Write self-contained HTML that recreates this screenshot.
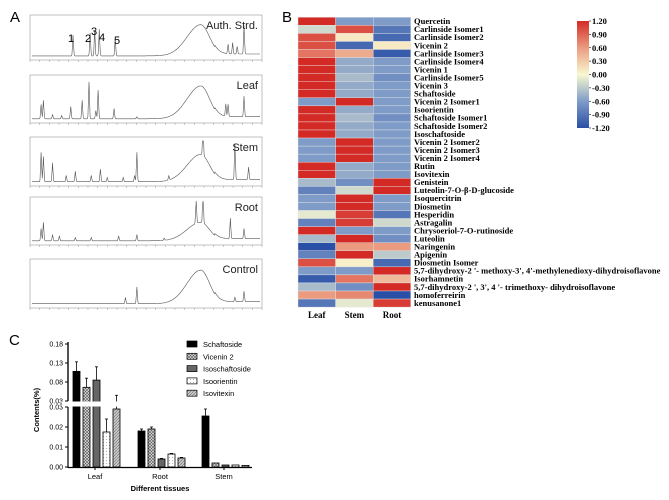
<!DOCTYPE html>
<html><head><meta charset="utf-8"><style>
html,body{margin:0;padding:0;background:#fff;width:669px;height:500px;overflow:hidden}
svg text{font-family:"Liberation Sans",sans-serif}
.serif{font-family:"Liberation Serif",serif;font-weight:bold}
</style></head><body>
<svg id="fig" width="669" height="500" viewBox="0 0 669 500" xmlns="http://www.w3.org/2000/svg">
<defs>
<pattern id="pCross" width="3" height="3" patternUnits="userSpaceOnUse"><rect width="3" height="3" fill="#ddd"/><path d="M0 0L3 3M3 0L0 3" stroke="#555" stroke-width="0.6"/></pattern>
<pattern id="pDot" width="3" height="3" patternUnits="userSpaceOnUse"><rect width="3" height="3" fill="#fff"/><circle cx="1.5" cy="1.5" r="0.5" fill="#999"/></pattern>
<pattern id="pHatch" width="3" height="3" patternUnits="userSpaceOnUse"><rect width="3" height="3" fill="#ccc"/><path d="M0 3L3 0" stroke="#777" stroke-width="0.7"/></pattern>
<linearGradient id="cbar" x1="0" y1="1" x2="0" y2="0">
<stop offset="0" stop-color="#2a4fa6"/><stop offset="0.25" stop-color="#7f9cc8"/><stop offset="0.5" stop-color="#f8f8d0"/><stop offset="0.75" stop-color="#eb9b80"/><stop offset="1" stop-color="#d42a26"/></linearGradient>
</defs>
<text x="10" y="22" font-size="15">A</text>
<text x="282" y="22" font-size="15">B</text>
<text x="9" y="345" font-size="15">C</text>
<g id="chrom"></g>
<g id="heat"></g>
<g id="bars"></g>
</svg>
<script>
// ---------- Panel A data ----------
const chromNames = ["Auth. Strd.","Leaf","Stem","Root","Control"];
// peaks: [relative position 0..1, relative height 0..1]
const chromPeaks = [
 [[0.18,0.55],[0.255,0.6],[0.275,0.65],[0.295,0.7],[0.365,0.45],[0.93,0.75],[0.86,0.25],[0.88,0.3],[0.9,0.2]],
 [[0.04,0.35],[0.05,0.45],[0.09,0.1],[0.13,0.08],[0.17,0.3],[0.22,0.45],[0.25,0.9],[0.28,0.2],[0.29,0.7],[0.36,0.25],[0.46,0.05],[0.85,0.3],[0.86,0.3],[0.93,0.5]],
 [[0.04,0.7],[0.05,0.6],[0.09,0.45],[0.15,0.15],[0.19,0.25],[0.26,0.15],[0.3,0.3],[0.33,0.1],[0.4,0.1],[0.45,0.15],[0.46,0.7],[0.6,0.1],[0.75,0.9],[0.89,0.85],[0.95,0.3]],
 [[0.04,0.3],[0.05,0.45],[0.09,0.15],[0.12,0.12],[0.19,0.08],[0.26,0.08],[0.38,0.12],[0.46,0.15],[0.58,0.05],[0.75,0.8],[0.72,0.6],[0.87,0.5],[0.93,0.25]],
 [[0.41,0.15],[0.46,0.4],[0.89,0.1],[0.93,0.25]]
];
const chromHump = [0.82,0.8,0.65,0.45,0.8];
const boxes = [[15,67],[75,130],[137,193],[197,252],[259,315]];
const ch = document.getElementById('chrom');
const NS="http://www.w3.org/2000/svg";
function mk(tag,attrs,parent){const e=document.createElementNS(NS,tag);for(const k in attrs)e.setAttribute(k,attrs[k]);parent.appendChild(e);return e;}
const bx0=30,bx1=262;
boxes.forEach((b,i)=>{
  const g=mk('g',{},ch);
  
  
  mk('rect',{x:bx0,y:b[0],width:bx1-bx0,height:b[1]-b[0]-7,fill:'none',stroke:'#999','stroke-width':0.6},g);
  const base=b[1]-10, top=b[0]+4, H=base-top;
  let pts=[];
  for(let k=0;k<=400;k++){
    const t=k/400; let y=0.03;
    const w=t<0.74?0.085:0.055;
    y+=chromHump[i]*Math.exp(-Math.pow((t-0.74)/w,2));
    if(t>0.8) y+=0.05;
    chromPeaks[i].forEach(p=>{y+=p[1]*Math.exp(-Math.pow((t-p[0])/0.003,2));});
    pts.push((bx0+2+t*(bx1-bx0-4)).toFixed(1)+','+(base-Math.min(y,1)*H).toFixed(1));
  }
  mk('polyline',{points:pts.join(' '),fill:'none',stroke:'#555','stroke-width':0.6},g);
  for(let k=0;k<=24;k++){mk('line',{x1:bx0+k*(bx1-bx0)/24,x2:bx0+k*(bx1-bx0)/24,y1:b[1]-7,y2:b[1]-5,stroke:'#999','stroke-width':0.5},g);}
  const tl=mk('text',{x:bx1-4,y:b[0]+14,'font-size':11,'text-anchor':'end',fill:'#222'},g);tl.textContent=chromNames[i];
});
[["1",68,42],["2",85,42],["3",91,35],["4",99,41],["5",114,44]].forEach(n=>{const t=mk('text',{x:n[1],y:n[2],'font-size':11},ch);t.textContent=n[0];});

// ---------- Panel B data ----------
const compounds=["Quercetin","Carlinside Isomer1","Carlinside Isomer2","Vicenin 2","Carlinside Isomer3","Carlinside Isomer4","Vicenin 1","Carlinside Isomer5","Vicenin 3","Schaftoside","Vicenin 2 Isomer1","Isoorientin","Schaftoside Isomer1","Schaftoside Isomer2","Isoschaftoside","Vicenin 2 Isomer2","Vicenin 2 Isomer3","Vicenin 2 Isomer4","Rutin","Isovitexin","Genistein","Luteolin-7-O-β-D-glucoside","Isoquercitrin","Diosmetin","Hesperidin","Astragalin","Chrysoeriol-7-O-rutinoside","Luteolin","Naringenin","Apigenin","Diosmetin Isomer","5,7-dihydroxy-2 '- methoxy-3', 4'-methylenedioxy-dihydroisoflavone","Isorhamnetin","5,7-dihydroxy-2 ', 3', 4 '- trimethoxy- dihydroisoflavone","homoferreirin","kenusanone1"];
const tissues=["Leaf","Stem","Root"];
const leafZ=[1.2,-0.2,1.0,1.0,0.8,1.2,1.2,1.2,1.2,1.2,-0.6,1.2,1.2,1.2,1.2,-0.6,-0.6,-0.6,1.2,1.2,-0.4,-0.8,-0.6,-0.6,-0.1,-0.8,1.2,-0.4,-1.2,-0.8,1.0,-0.6,-1.1,-0.4,0.6,-0.9];
const stemZ=[-0.6,1.0,0.1,-1.0,0.5,-0.5,-0.5,-0.4,-0.5,-0.5,1.2,-0.5,-0.4,-0.5,-0.5,1.2,1.2,1.2,-0.5,-0.5,-0.7,-0.2,1.2,1.2,1.1,1.1,-0.6,1.2,0.6,1.2,0.05,-0.6,0.8,-0.7,0.7,-0.1];
const rootZ=[-0.6,-0.9,-1.0,0.1,-1.1,-0.6,-0.6,-0.7,-0.6,-0.6,-0.6,-0.6,-0.7,-0.6,-0.6,-0.6,-0.6,-0.6,-0.6,-0.6,1.2,1.2,-0.6,-0.6,-0.9,-0.2,-0.6,-0.7,0.6,-0.3,-1.0,1.2,0.4,1.2,-1.2,1.1];
const cbTicks=[1.2,0.9,0.6,0.3,0,-0.3,-0.6,-0.9,-1.2];
function lerp(a,b,t){return a.map((v,i)=>Math.round(v+(b[i]-v)*t));}
function zcol(z){
  const stops=[[-1.2,[42,79,166]],[-0.6,[127,156,200]],[0,[248,248,208]],[0.6,[235,155,128]],[1.2,[212,42,38]]];
  z=Math.max(-1.2,Math.min(1.2,z));
  for(let i=0;i<stops.length-1;i++){if(z<=stops[i+1][0]){const t=(z-stops[i][0])/(stops[i+1][0]-stops[i][0]);return 'rgb('+lerp(stops[i][1],stops[i+1][1],t).join(',')+')';}}
  return 'rgb(212,42,38)';
}
const hm=document.getElementById('heat');
const hx0=298,cw=37.6,hy0=17.3,rh=8.05;
const cols=[leafZ,stemZ,rootZ];
compounds.forEach((c,r)=>{
  cols.forEach((arr,j)=>{
    const rc=mk('rect',{x:hx0+j*cw,y:hy0+r*rh,width:cw,height:rh,fill:zcol(arr[r]),stroke:'#e6e6e6','stroke-width':0.4},hm);
    
    
  });
  const t=mk('text',{x:414,y:hy0+r*rh+6.8,'font-size':8.5,'class':'serif'},hm);
  
  
  t.textContent=c;
});
tissues.forEach((t,j)=>{const e=mk('text',{x:hx0+j*cw+cw/2,y:318,'font-size':9,'class':'serif','text-anchor':'middle'},hm);e.textContent=t;});
const cbx=577,cby0=21,cby1=128;
const cb=mk('rect',{x:cbx,y:cby0,width:12,height:cby1-cby0,fill:'url(#cbar)'},hm);


cbTicks.forEach(v=>{const y=cby0+(1.2-v)/2.4*(cby1-cby0);mk('line',{x1:cbx+12,x2:cbx+14,y1:y,y2:y,stroke:'#000','stroke-width':0.6},hm);const t=mk('text',{x:cbx+15,y:y+3,'font-size':8.5,'class':'serif'},hm);t.textContent=v.toFixed(2);});

// ---------- Panel C data ----------
const groups=["Leaf","Root","Stem"];
const seriesNames=["Schaftoside","Vicenin 2","Isoschaftoside","Isoorientin","Isovitexin"];
const values=[[0.108,0.066,0.085,0.0175,0.029],[0.018,0.019,0.004,0.0065,0.0045],[0.0255,0.002,0.001,0.001,0.0008]];
const errors=[[0.025,0.024,0.035,0.0065,0.016],[0.001,0.001,0.0003,0.0003,0.0003],[0.0035,0,0,0,0]];
const lowTicks=[0,0.01,0.02,0.03];
const highTicks=[0.03,0.08,0.13,0.18];
const fills=["#000","url(#pCross)","#666","url(#pDot)","url(#pHatch)"];
const bc=document.getElementById('bars');
const ax=68, ax1=252;
function yLow(v){return 467-(v/0.03)*60;}
function yHigh(v){return 401-((v-0.03)/0.15)*57;}
function yv(v){return v<=0.03?yLow(v):yHigh(v);}
const gCenter=[95,160,224];
mk('line',{x1:ax,x2:ax,y1:342,y2:401,stroke:'#000','stroke-width':1.2},bc);
mk('line',{x1:ax,x2:ax,y1:407,y2:468,stroke:'#000','stroke-width':1.2},bc);
mk('line',{x1:ax,x2:ax1,y1:467.5,y2:467.5,stroke:'#000','stroke-width':1.2},bc);
lowTicks.forEach(v=>{const y=yLow(v);mk('line',{x1:ax-3,x2:ax,y1:y,y2:y,stroke:'#000'},bc);const t=mk('text',{x:ax-5,y:y+2.5,'font-size':7,'text-anchor':'end'},bc);t.textContent=v.toFixed(2);});
highTicks.forEach(v=>{const y=yHigh(v);mk('line',{x1:ax-3,x2:ax,y1:y,y2:y,stroke:'#000'},bc);const t=mk('text',{x:ax-5,y:y+2.5,'font-size':7,'text-anchor':'end'},bc);t.textContent=v.toFixed(2);});
groups.forEach((gname,gi)=>{
  values[gi].forEach((v,si)=>{
    const x=gCenter[gi]-22+si*10;
    const top=yv(v);
    const r=mk('rect',{x:x,y:top,width:7,height:467-top,fill:fills[si],stroke:'#000','stroke-width':0.8},bc);
    
    
    const e=errors[gi][si];
    if(e>0){const ey=yv(v+e);mk('line',{x1:x+3.5,x2:x+3.5,y1:ey,y2:top,stroke:'#000','stroke-width':0.8},bc);mk('line',{x1:x+2,x2:x+5,y1:ey,y2:ey,stroke:'#000','stroke-width':0.8},bc);}
  });
  mk('line',{x1:gCenter[gi],x2:gCenter[gi],y1:467,y2:470,stroke:'#000'},bc);
  const t=mk('text',{x:gCenter[gi],y:479,'font-size':7.5,'text-anchor':'middle'},bc);
  t.textContent=gname;
});
mk('rect',{x:ax-6,y:401.5,width:ax1-ax+6,height:5,fill:'#fff'},bc);
mk('line',{x1:ax,x2:ax,y1:342,y2:401,stroke:'#000','stroke-width':1.2},bc);
const yt=mk('text',{x:0,y:0,'font-size':7.5,'font-weight':'bold','text-anchor':'middle',transform:'translate(39,410) rotate(-90)'},bc);
yt.textContent='Contents(%)';
const xt=mk('text',{x:160,y:491,'font-size':7.5,'font-weight':'bold','text-anchor':'middle'},bc);
xt.textContent='Different tissues';
seriesNames.forEach((s,si)=>{
  const y=341+si*12.3;
  const g=mk('g',{},bc);
  
  
  mk('rect',{x:187,y:y,width:10,height:6,fill:fills[si],stroke:'#000','stroke-width':0.7},g);
  const t=mk('text',{x:203,y:y+6,'font-size':7.5},g);t.textContent=s;
});
</script>
</body></html>
